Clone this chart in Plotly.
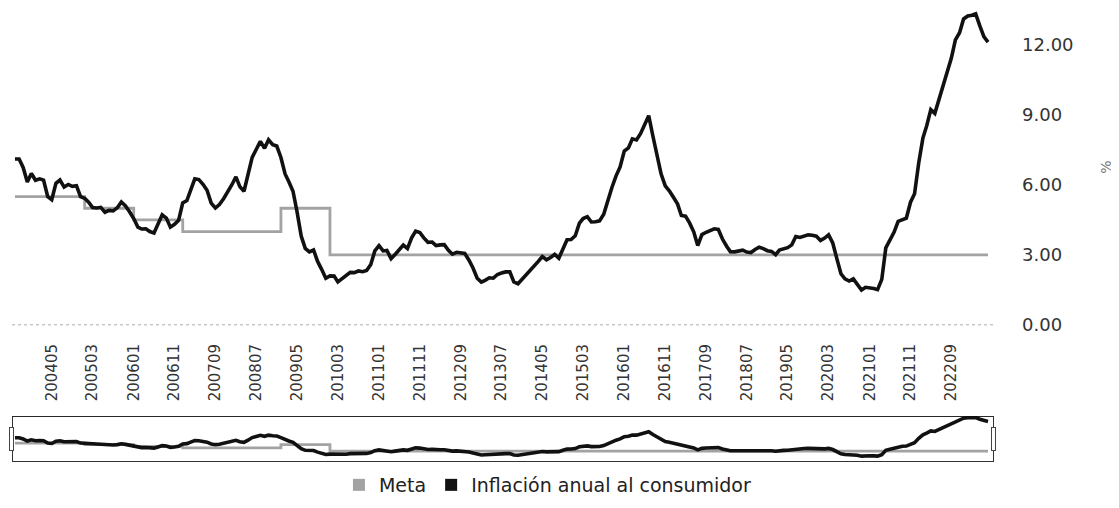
import pandas as pd
import plotly.graph_objects as go

# monthly periods, Aug 2003 .. Jun 2023
periodos = pd.date_range("2003-08-01", "2023-06-01", freq="MS")

# annual consumer inflation (%), one row per year
inflacion = [
    7.11, 7.11, 6.75, 6.13, 6.49,                                        # 2003 (ago-dic)
    6.20, 6.26, 6.21, 5.50, 5.37, 6.07, 6.21, 5.91, 6.02, 5.94, 5.97, 5.50,  # 2004
    5.43, 5.25, 5.03, 5.01, 5.04, 4.83, 4.91, 4.89, 5.02, 5.27, 5.10, 4.85,  # 2005
    4.56, 4.19, 4.11, 4.12, 4.00, 3.94, 4.32, 4.72, 4.58, 4.19, 4.31, 4.48,  # 2006
    5.23, 5.33, 5.78, 6.26, 6.23, 6.03, 5.77, 5.22, 5.01, 5.16, 5.41, 5.69,  # 2007
    6.00, 6.35, 5.93, 5.73, 6.39, 7.18, 7.52, 7.87, 7.57, 7.94, 7.73, 7.67,  # 2008
    7.18, 6.47, 6.14, 5.73, 4.85, 3.81, 3.28, 3.13, 3.21, 2.72, 2.37, 2.00,  # 2009
    2.10, 2.09, 1.84, 1.98, 2.07, 2.25, 2.24, 2.31, 2.28, 2.33, 2.59, 3.17,  # 2010
    3.40, 3.17, 3.19, 2.84, 3.02, 3.23, 3.42, 3.27, 3.73, 4.02, 3.96, 3.73,  # 2011
    3.54, 3.55, 3.40, 3.43, 3.44, 3.20, 3.03, 3.11, 3.08, 3.06, 2.77, 2.44,  # 2012
    2.00, 1.83, 1.91, 2.02, 2.00, 2.16, 2.22, 2.27, 2.27, 1.84, 1.76, 1.94,  # 2013
    2.13, 2.32, 2.51, 2.72, 2.93, 2.79, 2.89, 3.02, 2.86, 3.29, 3.65, 3.66,  # 2014
    3.82, 4.36, 4.56, 4.64, 4.41, 4.42, 4.46, 4.74, 5.35, 5.89, 6.39, 6.77,  # 2015
    7.45, 7.59, 7.98, 7.93, 8.20, 8.60, 8.97, 8.10, 7.27, 6.48, 5.96, 5.75,  # 2016
    5.47, 5.18, 4.69, 4.66, 4.37, 3.99, 3.40, 3.87, 3.97, 4.05, 4.12, 4.09,  # 2017
    3.68, 3.37, 3.14, 3.13, 3.16, 3.20, 3.12, 3.10, 3.23, 3.33, 3.27, 3.18,  # 2018
    3.15, 3.01, 3.21, 3.25, 3.31, 3.43, 3.79, 3.75, 3.82, 3.86, 3.84, 3.80,  # 2019
    3.62, 3.72, 3.86, 3.51, 2.85, 2.19, 1.97, 1.88, 1.97, 1.75, 1.49, 1.61,  # 2020
    1.60, 1.56, 1.51, 1.95, 3.30, 3.63, 3.97, 4.44, 4.51, 4.58, 5.26, 5.62,  # 2021
    6.94, 8.01, 8.53, 9.23, 9.07, 9.67, 10.21, 10.84, 11.44, 12.22, 12.53, 13.12,  # 2022
    13.25, 13.28, 13.34, 12.82, 12.36, 12.13,                            # 2023 (ene-jun)
]

# inflation target per year
meta_anios = [2003, 2004, 2005, 2006, 2007, 2008, 2009, 2010, 2011, 2012, 2013,
              2014, 2015, 2016, 2017, 2018, 2019, 2020, 2021, 2022, 2023]
meta_valores = [5.5, 5.5, 5.0, 4.5, 4.0, 4.0, 5.0, 3.0, 3.0, 3.0, 3.0,
                3.0, 3.0, 3.0, 3.0, 3.0, 3.0, 3.0, 3.0, 3.0, 3.0]
meta = [meta_valores[meta_anios.index(p.year)] for p in periodos]

etiquetas_x = ["200405", "200503", "200601", "200611", "200709", "200807",
               "200905", "201003", "201101", "201111", "201209", "201307",
               "201405", "201503", "201601", "201611", "201709", "201807",
               "201905", "202003", "202101", "202111", "202209"]
ticks_y = [0, 3, 6, 9, 12]

fuente = "DejaVu Sans"
rango_x = ["2003-07-10", "2023-07-08"]
rango_y = [-0.05, 13.59]

fig = go.Figure()

fig.add_trace(go.Scatter(
    x=periodos, y=meta, mode="lines", line_shape="hv",
    line=dict(color="#a3a3a3", width=2.8), showlegend=False,
))
fig.add_trace(go.Scatter(
    x=periodos, y=inflacion, mode="lines",
    line=dict(color="#111111", width=3.6), showlegend=False,
))

# legend entries drawn as squares
fig.add_trace(go.Scatter(x=[None], y=[None], mode="markers", name="Meta",
                         marker=dict(symbol="square", size=13, color="#a3a3a3")))
fig.add_trace(go.Scatter(x=[None], y=[None], mode="markers",
                         name="Inflación anual al consumidor",
                         marker=dict(symbol="square", size=13, color="#111111")))

fig.add_hline(y=0, line=dict(color="#aaaaaa", width=1, dash="dot"))

# the page adds an 8px body margin, so the figure is sized 8px smaller
fig.update_layout(
    width=1111, height=500,
    margin=dict(l=4, r=126, t=0, b=182, autoexpand=False),
    paper_bgcolor="white", plot_bgcolor="white",
    font=dict(family=fuente, color="#222222"),
    xaxis=dict(
        type="date", range=rango_x, automargin=False,
        tickvals=pd.to_datetime(etiquetas_x, format="%Y%m"), ticktext=etiquetas_x,
        tickangle=-90, tickfont=dict(size=15, color="#333333"),
        ticks="", showgrid=False, showline=False, zeroline=False,
        ticklabelstandoff=14,
        rangeslider=dict(
            visible=True, thickness=0.142, range=rango_x,
            bgcolor="white", bordercolor="#333333", borderwidth=1,
            yaxis=dict(rangemode="fixed", range=[0, 13.8]),
        ),
    ),
    yaxis=dict(
        side="right", range=rango_y, tickvals=ticks_y, tickformat=".2f",
        tickfont=dict(size=18, color="#333333"), ticks="", automargin=False,
        showgrid=False, zeroline=False, showline=False,
        ticklabelstandoff=28,
        title=dict(text="%", font=dict(size=14, color="#777777"), standoff=28),
    ),
    legend=dict(
        orientation="h", xref="container", yref="container",
        x=0.486, xanchor="center", y=0.046, yanchor="middle",
        font=dict(size=19, color="#222222"), itemsizing="constant",
    ),
)

fig.write_html("out.html")
